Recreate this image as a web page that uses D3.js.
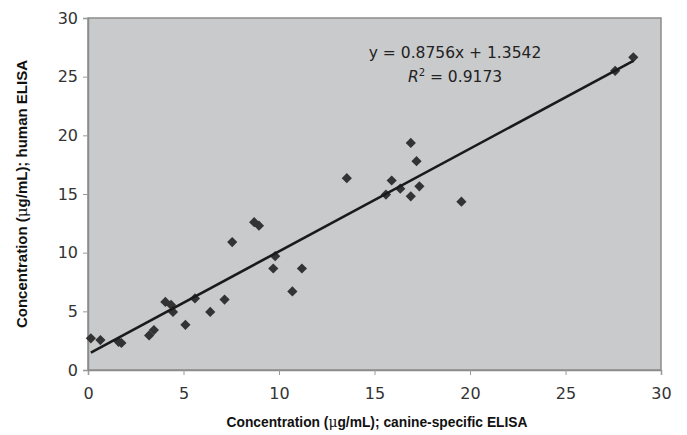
<!DOCTYPE html>
<html>
<head>
<meta charset="utf-8">
<script src="https://cdn.jsdelivr.net/npm/d3@7"></script>
<style>
  html, body { margin: 0; padding: 0; background: #fff; }
  svg { display: block; }
  .tick text { font-family: "DejaVu Sans", sans-serif; font-size: 16px; fill: #333; }
</style>
</head>
<body>
<svg id="chart" width="687" height="435"></svg>
<script>
// Paired concentrations (µg/mL): canine-specific ELISA vs human ELISA
const canine = [0.15, 0.65, 1.6, 1.75, 3.2, 3.45, 4.05, 4.35, 4.45, 5.1, 5.6, 6.4, 7.15, 7.55,
                8.7, 8.95, 9.7, 9.8, 10.7, 11.2, 13.55, 15.6, 15.9, 16.35, 16.9, 16.9, 17.2, 17.35,
                19.55, 27.6, 28.55];
const human  = [2.7, 2.55, 2.4, 2.3, 2.95, 3.4, 5.8, 5.55, 4.95, 3.85, 6.1, 4.95, 6.0, 10.9,
                12.6, 12.3, 8.65, 9.7, 6.7, 8.65, 16.35, 14.95, 16.15, 15.45, 19.35, 14.8, 17.8, 15.65,
                14.35, 25.5, 26.65];
const xTicks = [0, 5, 10, 15, 20, 25, 30];
const yTicks = [0, 5, 10, 15, 20, 25, 30];
const slope = 0.8756, intercept = 1.3542, rSquared = 0.9173;

const svg = d3.select("#chart");
const margin = { left: 88, top: 18, right: 26, bottom: 65 };
const W = 687, H = 435;

const x = d3.scaleLinear().domain([0, 30]).range([margin.left, W - margin.right]);
const y = d3.scaleLinear().domain([0, 30]).range([H - margin.bottom, margin.top]);

// Plot area background and border
svg.append("rect")
  .attr("x", x(0)).attr("y", y(30))
  .attr("width", x(30) - x(0)).attr("height", y(0) - y(30))
  .attr("fill", "#c9cacc").attr("stroke", "#8c8c8c").attr("stroke-width", 1.5);

// Axes
const xAxis = svg.append("g")
  .attr("transform", `translate(0,${y(0)})`)
  .call(d3.axisBottom(x).tickValues(xTicks).tickSize(5).tickPadding(13));
const yAxis = svg.append("g")
  .attr("transform", `translate(${x(0)},0)`)
  .call(d3.axisLeft(y).tickValues(yTicks).tickSize(5).tickPadding(5));
[xAxis, yAxis].forEach(g => {
  g.select(".domain").attr("stroke", "#8c8c8c").attr("stroke-width", 1.5);
  g.selectAll(".tick line").attr("stroke", "#9a9a9a");
});

// Data points (square diamonds)
const marker = d3.symbol().type(d3.symbolSquare).size(52);
svg.append("g").selectAll("path")
  .data(canine.map((c, i) => [c, human[i]]))
  .join("path")
  .attr("d", marker)
  .attr("transform", d => `translate(${x(d[0])},${y(d[1])}) rotate(45)`)
  .attr("fill", "#333");

// Linear trendline over the data range
const xMin = d3.min(canine), xMax = d3.max(canine);
svg.append("line")
  .attr("x1", x(xMin)).attr("y1", y(slope * xMin + intercept))
  .attr("x2", x(xMax)).attr("y2", y(slope * xMax + intercept))
  .attr("stroke", "#1a1a1a").attr("stroke-width", 2.6);

// Equation and R²
const eqFont = "'DejaVu Sans', sans-serif";
svg.append("text")
  .attr("x", 455).attr("y", 58)
  .attr("text-anchor", "middle")
  .attr("font-family", eqFont).attr("font-size", 15.5).attr("fill", "#222")
  .text(`y = ${slope}x + ${intercept}`);
const r2 = svg.append("text")
  .attr("x", 455).attr("y", 82)
  .attr("text-anchor", "middle")
  .attr("font-family", eqFont).attr("font-size", 15.5).attr("fill", "#222");
r2.append("tspan").attr("font-style", "italic").text("R");
r2.append("tspan").attr("font-size", 10).attr("dy", -6).text("2");
r2.append("tspan").attr("dy", 6).text(` = ${rSquared}`);

// Axis titles
const titleFont = "'Liberation Sans', Arial, sans-serif";
function title(sel, before, after) {
  sel.attr("font-family", titleFont).attr("font-size", 15).attr("font-weight", "bold").attr("fill", "#111");
  sel.append("tspan").text(before);
  sel.append("tspan").attr("font-weight", "normal").attr("font-family", "'DejaVu Serif', serif").text("μ");
  sel.append("tspan").text(after);
  return sel;
}
// x title is set slightly condensed
title(svg.append("text")
  .attr("transform", "translate(377,427) scale(0.92,1)")
  .attr("text-anchor", "middle"),
  "Concentration (", "g/mL); canine-specific ELISA");
title(svg.append("text")
  .attr("transform", `translate(27,${(y(0) + y(30)) / 2}) rotate(-90)`)
  .attr("text-anchor", "middle"),
  "Concentration (", "g/mL); human ELISA");
</script>
</body>
</html>
